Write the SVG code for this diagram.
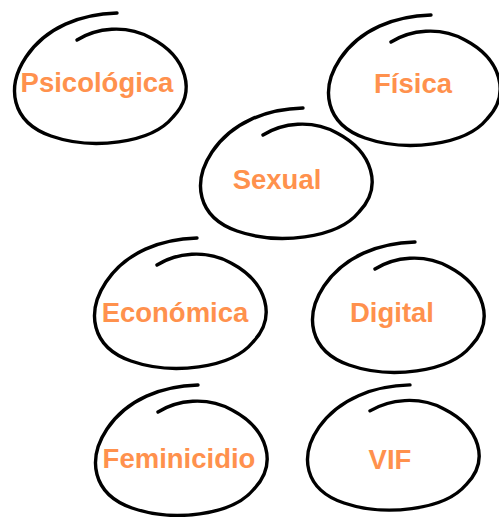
<svg xmlns="http://www.w3.org/2000/svg" width="499" height="517" viewBox="0 0 499 517">
<style>
.ring{fill:none;stroke:#000;stroke-width:3.4;stroke-linecap:round;stroke-linejoin:round}
.lbl{font-family:"Liberation Sans",Arial,sans-serif;font-weight:bold;font-size:27.5px;fill:#ff914d;text-anchor:middle}
</style>
<defs>
<path id="scribble" class="ring" d="M106,1 C70,2 35,15 15,45 C-5,75 0,110 40,124 C80,138 140,132 162,105 C186,80 176,45 140,26 C115,12 85,16 66,28"/>
</defs>
<rect width="499" height="517" fill="#fff"/>
<g id="psicologica">
<use href="#scribble" transform="translate(11,12)"/>
<text class="lbl" x="97" y="92">Psicológica</text>
</g>
<g id="fisica">
<use href="#scribble" transform="translate(325,14)"/>
<text class="lbl" x="413" y="93">Física</text>
</g>
<g id="sexual">
<use href="#scribble" transform="translate(197,107)"/>
<text class="lbl" x="277" y="189">Sexual</text>
</g>
<g id="economica">
<use href="#scribble" transform="translate(91,237)"/>
<text class="lbl" x="175" y="322">Económica</text>
</g>
<g id="digital">
<use href="#scribble" transform="translate(309,241)"/>
<text class="lbl" x="392" y="322">Digital</text>
</g>
<g id="feminicidio">
<use href="#scribble" transform="translate(92,384)"/>
<text class="lbl" x="179" y="468">Feminicidio</text>
</g>
<g id="vif">
<use href="#scribble" transform="translate(304,384) scale(1,0.96)"/>
<text class="lbl" x="390" y="469">VIF</text>
</g>
<g id="connectors"></g>
</svg>
